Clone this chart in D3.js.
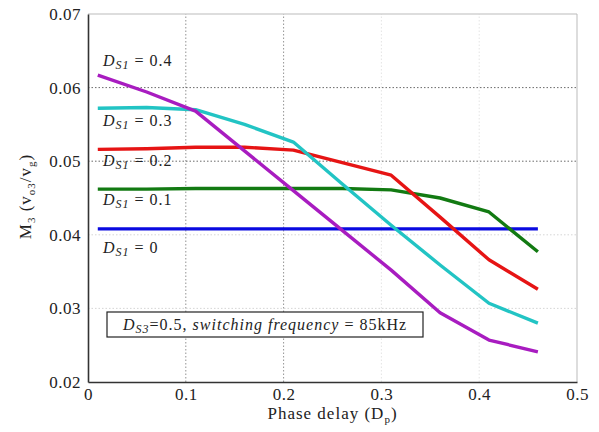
<!DOCTYPE html>
<html>
<head>
<meta charset="utf-8">
<script src="https://cdn.jsdelivr.net/npm/d3@7"></script>
<style>
  body { margin: 0; background: #fff; }
  svg text { font-family: "Liberation Serif", "Times New Roman", Times, "DejaVu Serif", serif; fill: #222; }
</style>
</head>
<body>
<div id="chart"></div>
<script>
// phase delay samples (x)
const phaseDelay = [0.01, 0.06, 0.11, 0.16, 0.21, 0.26, 0.31, 0.36, 0.41, 0.46];

// M3 values per D_S1
const ds1_00 = [0.0408, 0.0408, 0.0408, 0.0408, 0.0408, 0.0408, 0.0408, 0.0408, 0.0408, 0.0408];
const ds1_01 = [0.0462, 0.0462, 0.0463, 0.0463, 0.0463, 0.0463, 0.0461, 0.0450, 0.0431, 0.0377];
const ds1_02 = [0.0516, 0.0517, 0.0519, 0.0519, 0.0515, 0.0498, 0.0481, 0.0424, 0.0366, 0.0326];
const ds1_03 = [0.0572, 0.0573, 0.0570, 0.0550, 0.0526, 0.0469, 0.0413, 0.0359, 0.0307, 0.0280];
const ds1_04 = [0.0617, 0.0594, 0.0568, 0.0514, 0.0460, 0.0406, 0.0352, 0.0294, 0.0257, 0.0241];

const seriesNames = ['0', '0.1', '0.2', '0.3', '0.4'];
const seriesValues = [ds1_00, ds1_01, ds1_02, ds1_03, ds1_04];
const seriesColors = ['#0a0ae0', '#127a12', '#e61414', '#22c4c4', '#a81cc0'];

const xTicks = [0, 0.1, 0.2, 0.3, 0.4, 0.5];
const yTicks = [0.02, 0.03, 0.04, 0.05, 0.06, 0.07];

const width = 599, height = 432;
const margin = { left: 88, right: 22, top: 14, bottom: 50 };
const serif = '"Liberation Serif", "Times New Roman", Times, "DejaVu Serif", serif';

const svg = d3.select('#chart').append('svg')
  .attr('width', width)
  .attr('height', height);

const x = d3.scaleLinear().domain([0, 0.5]).range([margin.left, width - margin.right]);
const y = d3.scaleLinear().domain([0.02, 0.07]).range([height - margin.bottom, margin.top]);

// grid (the scan keeps 0.1/0.2 and 0.05/0.06 darker)
const grid = svg.append('g').attr('class', 'grid');
grid.selectAll('.vgrid')
  .data(xTicks.slice(1, -1))
  .enter().append('line')
  .attr('x1', d => x(d)).attr('x2', d => x(d))
  .attr('y1', y(0.02)).attr('y2', y(0.07))
  .attr('stroke', d => d < 0.25 ? '#777' : '#ddd')
  .attr('stroke-width', 0.8)
  .attr('stroke-dasharray', '1.5,2');
grid.selectAll('.hgrid')
  .data(yTicks.slice(1, -1))
  .enter().append('line')
  .attr('x1', x(0)).attr('x2', x(0.5))
  .attr('y1', d => y(d)).attr('y2', d => y(d))
  .attr('stroke', d => d > 0.045 ? '#444' : '#ccc')
  .attr('stroke-width', 0.8)
  .attr('stroke-dasharray', '1.5,2');

// box: light top/right
svg.append('line')
  .attr('x1', x(0)).attr('x2', x(0.5)).attr('y1', y(0.07)).attr('y2', y(0.07))
  .attr('stroke', '#bbb').attr('stroke-width', 1);
svg.append('line')
  .attr('x1', x(0.5)).attr('x2', x(0.5)).attr('y1', y(0.07)).attr('y2', y(0.02))
  .attr('stroke', '#bbb').attr('stroke-width', 1);

// axes
const xAxis = d3.axisBottom(x).tickValues(xTicks).tickFormat(d3.format('')).tickSize(0).tickPadding(4);
const yAxis = d3.axisLeft(y).tickValues(yTicks).tickFormat(d3.format('.2f')).tickSize(0).tickPadding(7);

const gx = svg.append('g')
  .attr('transform', `translate(0,${y(0.02)})`)
  .call(xAxis);
const gy = svg.append('g')
  .attr('transform', `translate(${x(0)},0)`)
  .call(yAxis);
[gx, gy].forEach(g => {
  g.attr('font-family', null);
  g.select('.domain').attr('stroke', '#333').attr('stroke-width', 1.6);
  g.selectAll('text')
    .style('font-family', serif)
    .style('font-size', '17px')
    .style('letter-spacing', '0.5px')
    .attr('fill', '#333');
});
gx.selectAll('text').attr('dy', '0.85em');

// lines
const line = d3.line()
  .x((d, i) => x(phaseDelay[i]))
  .y(d => y(d));

svg.append('g').selectAll('path')
  .data(seriesValues)
  .enter().append('path')
  .attr('d', d => line(d))
  .attr('fill', 'none')
  .attr('stroke', (d, i) => seriesColors[i])
  .attr('stroke-width', 3.4)
  .attr('stroke-linejoin', 'round');

// curve labels
const labelPos = [
  { v: 0.0405, dy: 22 },
  { v: 0.0462, dy: 16 },
  { v: 0.0516, dy: 17 },
  { v: 0.0572, dy: 18 },
  { v: 0.0617, dy: -9 }
];
const labels = svg.append('g').selectAll('text')
  .data(seriesNames)
  .enter().append('text')
  .attr('x', 103)
  .attr('y', (d, i) => y(labelPos[i].v) + labelPos[i].dy)
  .style('font-family', serif)
  .style('font-size', '16px')
  .style('letter-spacing', '1px')
  .attr('fill', '#333');
labels.append('tspan').style('font-style', 'italic').text('D');
labels.append('tspan').style('font-style', 'italic').style('font-size', '12px').attr('dy', 3).text('S1');
labels.append('tspan').attr('dy', -3).text(d => ' = ' + d);

// annotation box
const box = svg.append('g');
box.append('rect')
  .attr('x', 107).attr('y', 312)
  .attr('width', 316).attr('height', 25)
  .attr('fill', '#fff')
  .attr('stroke', '#222')
  .attr('stroke-width', 1.2);
const note = box.append('text')
  .attr('x', 123).attr('y', 330)
  .style('font-family', serif)
  .style('font-size', '16px')
  .style('letter-spacing', '1px')
  .attr('fill', '#333');
note.append('tspan').style('font-style', 'italic').text('D');
note.append('tspan').style('font-style', 'italic').style('font-size', '12px').attr('dy', 3).text('S3');
note.append('tspan').attr('dy', -3).text('=0.5, ');
note.append('tspan').style('font-style', 'italic').text('switching frequency');
note.append('tspan').text(' = 85kHz');

// axis titles
const xt = svg.append('text')
  .attr('x', x(0.25))
  .attr('y', 419)
  .attr('text-anchor', 'middle')
  .style('font-family', serif)
  .style('font-size', '17px')
  .style('letter-spacing', '1px');
xt.append('tspan').text('Phase delay (D');
xt.append('tspan').style('font-size', '11px').attr('dy', 4).text('p');
xt.append('tspan').attr('dy', -4).text(')');

const yt = svg.append('text')
  .attr('transform', `translate(31,${y(0.0452)}) rotate(-90)`)
  .attr('text-anchor', 'middle')
  .style('font-family', serif)
  .style('font-size', '17px')
  .style('letter-spacing', '1px');
yt.append('tspan').text('M');
yt.append('tspan').style('font-size', '11px').attr('dy', 4).text('3');
yt.append('tspan').attr('dy', -4).text(' (v');
yt.append('tspan').style('font-size', '11px').attr('dy', 4).text('o3');
yt.append('tspan').attr('dy', -4).text('/v');
yt.append('tspan').style('font-size', '11px').attr('dy', 4).text('g');
yt.append('tspan').attr('dy', -4).text(')');
</script>
</body>
</html>
